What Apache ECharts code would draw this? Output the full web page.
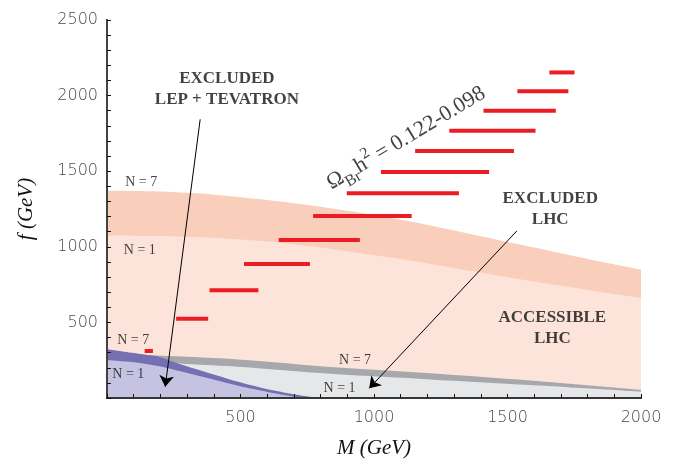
<!DOCTYPE html>
<html>
<head>
<meta charset="utf-8">
<script src="https://cdn.jsdelivr.net/npm/echarts@6/dist/echarts.min.js"></script>
<style>
  html, body { margin: 0; padding: 0; background: #fff; }
  #main { width: 683px; height: 464px; }
</style>
</head>
<body>
<div id="main"></div>
<script>
// band boundaries, [M (GeV), f (GeV)]
var excl7 = [[0,1370],[200,1365],[400,1345],[600,1310],[800,1265],[1000,1210],[1200,1145],[1400,1070],[1600,995],[1800,920],[2000,850]];
var excl1 = [[0,1075],[200,1072],[400,1060],[600,1035],[800,995],[1000,945],[1200,890],[1400,830],[1600,770],[1800,715],[2000,663]];
var lhc7 = [[0,292],[191,281],[491,255],[853,203],[1209,163],[1584,115],[2000,53]];
var lhc1 = [[0,262],[300,225],[491,207],[853,158],[1209,123],[1584,86],[2000,42]];
var lep7 = [[0,322],[116,293],[191,274],[266,229],[366,174],[491,108],[616,53],[741,13],[804,0]];
var lep1 = [[0,251],[116,233],[191,211],[266,180],[366,137],[491,81],[616,35],[700,9],[740,0]];

// relic density segments: [M start, M end, f]
var relic = [[1657,1751,2153],[1537,1728,2028],[1410,1681,1900],[1282,1605,1768],[1154,1524,1634],[1026,1431,1495],[898,1318,1354],[772,1141,1204],[643,947,1045],[513,760,887],[384,567,713],[259,379,524],[141,172,311]];

// arrows: from -> to
var arrows = [[[349,1843],[218,75]],[[1535,1105],[982,64]]];

// annotations
var bigNotes = [
  {pos: [449,2044], text: 'EXCLUDED\nLEP + TEVATRON'},
  {pos: [1660,1248], text: 'EXCLUDED\nLHC'},
  {pos: [1668,459], text: 'ACCESSIBLE\nLHC'}
];
var nNotes = [
  {pos: [128,1429], text: 'N = 7'},
  {pos: [123,978], text: 'N = 1'},
  {pos: [98,383], text: 'N = 7'},
  {pos: [80,158], text: 'N = 1'},
  {pos: [929,251], text: 'N = 7'},
  {pos: [871,66], text: 'N = 1'}
];
var omegaPos = [1120,1718];

var serif = 'Liberation Serif';

function band(name, d, color) {
  return {
    name: name, type: 'line', data: d, smooth: 0.3,
    showSymbol: false, silent: true,
    lineStyle: {width: 0},
    areaStyle: {color: color, opacity: 1}
  };
}

function renderSeg(params, api) {
  var a = api.coord([api.value(0), api.value(2)]);
  var b = api.coord([api.value(1), api.value(2)]);
  return {
    type: 'line',
    shape: {x1: a[0], y1: a[1], x2: b[0], y2: b[1]},
    style: {stroke: '#ec1c24', lineWidth: 4}
  };
}

var notes = [];
bigNotes.forEach(function (n) {
  notes.push({value: n.pos, label: {formatter: n.text, fontFamily: serif, fontWeight: 'bold', fontSize: 17, lineHeight: 21}});
});
nNotes.forEach(function (n) {
  notes.push({value: n.pos, label: {formatter: n.text, fontFamily: serif, fontSize: 14}});
});
notes.push({value: omegaPos, label: {
  rotate: 31,
  formatter: '{o|\u03a9}{s|Br}{o|h}{p|2}{o| = 0.122-0.098}',
  rich: {
    o: {fontFamily: serif, fontSize: 22, lineHeight: 32, verticalAlign: 'middle', color: '#111'},
    s: {fontFamily: serif, fontSize: 16, lineHeight: 16, verticalAlign: 'bottom', color: '#111'},
    p: {fontFamily: serif, fontSize: 16, lineHeight: 16, verticalAlign: 'top', color: '#111'}
  }
}});

var tickFont = {fontFamily: 'DejaVu Sans', fontWeight: 'lighter', fontSize: 16, color: '#474747'};

var chart = echarts.init(document.getElementById('main'));
var option = {
  animation: false,
  grid: {left: 107, right: 42, top: 20, bottom: 66, outerBoundsMode: 'none'},
  xAxis: [{
    type: 'value', min: 0, max: 2000, interval: 500, z: 10,
    name: 'M (GeV)', nameLocation: 'middle', nameGap: 40,
    nameTextStyle: {fontFamily: serif, fontStyle: 'italic', fontSize: 21, color: '#111'},
    axisLine: {lineStyle: {color: '#111', width: 2}},
    axisTick: {inside: true, length: 4, lineStyle: {color: '#111'}},
    minorTick: {show: true, splitNumber: 5, length: 4, lineStyle: {color: '#111'}},
    axisLabel: Object.assign({margin: 12, formatter: function (v) { return v === 0 ? '' : v; }}, tickFont),
    splitLine: {show: false}
  }, {
    type: 'value', min: 0, max: 2000, position: 'top', z: 10,
    axisLine: {show: true, lineStyle: {color: '#444', width: 1.5}},
    axisTick: {show: false}, axisLabel: {show: false}, splitLine: {show: false}
  }],
  yAxis: [{
    type: 'value', min: 0, max: 2500, interval: 500, z: 10,
    name: 'f (GeV)', nameLocation: 'middle', nameGap: 70, nameRotate: 90,
    nameTextStyle: {fontFamily: serif, fontStyle: 'italic', fontSize: 21, color: '#111'},
    axisLine: {show: true, lineStyle: {color: '#111', width: 2}},
    axisTick: {inside: true, length: 4, lineStyle: {color: '#111'}},
    minorTick: {show: true, splitNumber: 5, length: 4, lineStyle: {color: '#111'}},
    axisLabel: Object.assign({margin: 9, formatter: function (v) { return v === 0 ? '' : v; }}, tickFont),
    splitLine: {show: false}
  }, {
    type: 'value', min: 0, max: 2500, position: 'right', z: 10,
    axisLine: {show: true, lineStyle: {color: '#555', width: 1.5}},
    axisTick: {show: false}, axisLabel: {show: false}, splitLine: {show: false}
  }],
  series: [
    band('excluded LHC N=7', excl7, '#f9ceba'),
    band('excluded LHC N=1', excl1, '#fde4da'),
    band('LHC N=7', lhc7, '#a7a8ab'),
    band('LHC N=1', lhc1, '#e6e7e8'),
    band('LEP N=7', lep7, '#7570b4'),
    band('LEP N=1', lep1, '#c5c3e1'),
    {
      name: 'relic', type: 'custom', renderItem: renderSeg, data: relic, silent: true,
      encode: {x: [0, 1], y: 2}, z: 5
    },
    {
      name: 'arrows', type: 'line', data: [], z: 6,
      itemStyle: {color: '#000'},
      markLine: {
        silent: true, symbol: ['none', 'arrow'], symbolSize: 11,
        itemStyle: {color: '#000'},
        lineStyle: {color: '#000', width: 1, type: 'solid'},
        label: {show: false},
        data: arrows.map(function (a) { return [{coord: a[0]}, {coord: a[1]}]; })
      }
    },
    {
      name: 'notes', type: 'scatter', data: notes, symbolSize: 0, silent: true, z: 7,
      label: {show: true, position: 'inside', color: '#111', align: 'center', verticalAlign: 'middle'}
    }
  ]
};
chart.setOption(option);
</script>
</body>
</html>
